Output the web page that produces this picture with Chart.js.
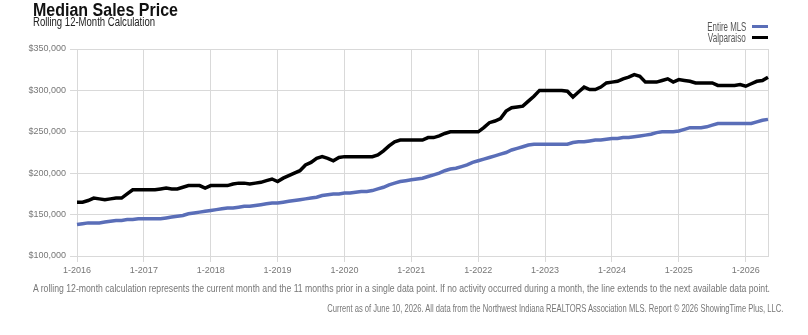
<!DOCTYPE html>
<html>
<head>
<meta charset="utf-8">
<script src="https://cdn.jsdelivr.net/npm/chart.js@4.4.1/dist/chart.umd.min.js"></script>
<style>
  html, body { margin:0; padding:0; background:#fff; }
  body { width:808px; height:335px; position:relative; overflow:hidden; font-family:'Liberation Sans Narrow','Arial Narrow','Liberation Sans',sans-serif; }
  #wrap { position:absolute; left:0; top:0; width:808px; height:335px; }
  .t { display:inline-block; white-space:nowrap; }
  .title { position:absolute; left:33px; top:0px; font-size:18px; font-weight:bold; color:#111; white-space:nowrap; }
  .sub { position:absolute; left:33px; top:15px; font-size:12.5px; color:#222; white-space:nowrap; }
  .legend { position:absolute; right:40px; top:22px; font-size:12px; color:#555; text-align:right; line-height:11px; white-space:nowrap; }
  .legend .sw { display:inline-block; width:16px; height:3px; margin-left:6px; vertical-align:middle; position:relative; top:-1px; }
  .note { position:absolute; left:33px; top:282px; font-size:11px; color:#777; white-space:nowrap; }
  .src { position:absolute; right:25px; top:302px; font-size:10.5px; color:#777; white-space:nowrap; }
</style>
</head>
<body>
<div id="wrap"><canvas id="chart" width="808" height="335"></canvas></div>
<div class="title"><span class="t" data-w="145" data-o="left">Median Sales Price</span></div>
<div class="sub"><span class="t" data-w="122" data-o="left">Rolling 12-Month Calculation</span></div>
<div class="legend">
  <div><span class="t" data-w="39" data-o="right">Entire MLS</span><span class="sw" style="background:#5a6eb8"></span></div>
  <div><span class="t" data-w="38" data-o="right">Valparaiso</span><span class="sw" style="background:#000"></span></div>
</div>
<div class="note"><span class="t" data-w="737" data-o="left">A rolling 12-month calculation represents the current month and the 11 months prior in a single data point. If no activity occurred during a month, the line extends to the next available data point.</span></div>
<div class="src"><span class="t" data-w="456" data-o="right">Current as of June 10, 2026. All data from the Northwest Indiana REALTORS Association MLS. Report © 2026 ShowingTime Plus, LLC.</span></div>
<script>
// monthly labels 1-2016 .. 5-2026
const months = [];
for (let y = 2016; y <= 2026; y++) {
  for (let m = 1; m <= 12; m++) {
    if (y === 2026 && m > 5) break;
    months.push(m + '-' + y);
  }
}

// values in $1,000s
const entireMLS = [
  138,139,140,140,140,141,142,143,143,144,144,145,
  145,145,145,145,146,147,148,149,151,152,153,154,
  155,156,157,158,158,159,160,160,161,162,163,164,
  164,165,166,167,168,169,170,171,173,174,175,175,
  176,176,177,178,178,179,181,183,186,188,190,191,
  192,193,194,196,198,200,203,205,206,208,210,213,
  215,217,219,221,223,225,228,230,232,234,235,235,
  235,235,235,235,235,237,238,238,239,240,240,241,
  242,242,243,243,244,245,246,247,249,250,250,250,
  251,253,255,255,255,256,258,260,260,260,260,260,
  260,260,262,264,265
];
const valparaiso = [
  165,165,167,170,169,168,169,170,170,175,180,180,
  180,180,180,181,182,181,181,183,185,185,185,182,
  185,185,185,185,187,188,188,187,188,189,191,193,
  190,194,197,200,203,210,213,218,220,218,215,219,
  220,220,220,220,220,220,222,227,233,238,240,240,
  240,240,240,243,243,245,248,250,250,250,250,250,
  250,255,261,263,266,275,279,280,281,287,293,300,
  300,300,300,300,299,292,298,304,301,301,304,309,
  310,311,314,316,319,317,310,310,310,312,314,310,
  313,312,311,309,309,309,309,306,306,306,306,307,
  305,308,311,312,316
];
const yTicks = [100000,150000,200000,250000,300000,350000];

// squeeze text to the narrow widths of the original
document.querySelectorAll('.t').forEach(el => {
  const w = el.getBoundingClientRect().width;
  el.style.transformOrigin = el.dataset.o + ' center';
  el.style.transform = 'scaleX(' + (Number(el.dataset.w) / w) + ')';
});

const last = months.length - 1;
const grid = '#d9d9d9';
const tickFont = { family:"'Liberation Sans Narrow','Arial Narrow','Liberation Sans',sans-serif", size:9 };

new Chart(document.getElementById('chart'), {
  type: 'line',
  data: {
    labels: months,
    datasets: [
      { label:'Entire MLS', data: entireMLS.map(v => v*1000), borderColor:'#5a6eb8', borderWidth:3.5, pointRadius:0, tension:0 },
      { label:'Valparaiso', data: valparaiso.map(v => v*1000), borderColor:'#000', borderWidth:3.5, pointRadius:0, tension:0 }
    ]
  },
  options: {
    responsive:false, animation:false,
    layout:{ padding:{ left:0, right:40, top:49, bottom:59 } },
    plugins:{ legend:{ display:false }, tooltip:{ enabled:false } },
    scales:{
      x:{
        afterFit: s => { s.height = 20; },
        border:{ color:grid },
        grid:{
          color: c => (c.index % 12 === 0 || c.index === last) ? grid : 'transparent',
          tickColor: c => (c.index % 12 === 0) ? grid : 'transparent',
          tickLength:6
        },
        ticks:{
          autoSkip:false, maxRotation:0, color:'#777', font:tickFont, padding:3,
          callback: (v, i) => i % 12 === 0 ? months[i] : ''
        }
      },
      y:{
        min:100000, max:350000,
        afterFit: s => { s.width = 77; },
        afterBuildTicks: s => { s.ticks = yTicks.map(v => ({ value:v })); },
        border:{ color:grid },
        grid:{ color:grid, tickLength:7 },
        ticks:{ color:'#777', font:tickFont, padding:4, callback: v => '$' + Number(v).toLocaleString('en-US') }
      }
    }
  }
});
</script>
</body>
</html>
